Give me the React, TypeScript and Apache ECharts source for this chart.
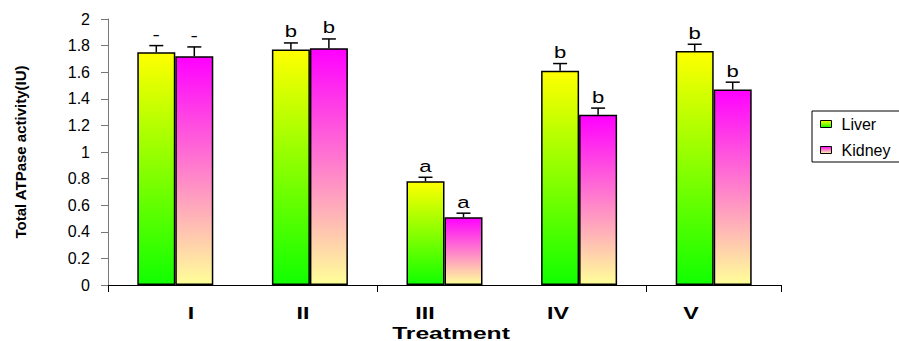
import React, { useEffect, useRef } from "react";
import * as echarts from "echarts";

const categories = ["I", "II", "III", "IV", "V"];
const liverValues = [1.75, 1.77, 0.78, 1.61, 1.76];
const kidneyValues = [1.72, 1.78, 0.51, 1.28, 1.47];
const liverErrors = [0.05, 0.05, 0.03, 0.055, 0.05];
const kidneyErrors = [0.07, 0.07, 0.03, 0.05, 0.055];
const liverLetters = ["-", "b", "a", "b", "b"];
const kidneyLetters = ["-", "b", "a", "b", "b"];
const yTicks = { min: 0, max: 2, interval: 0.2 };

// layout only
const BAR_W = 38;
const catLabelX = [191, 303, 425, 558, 691];
const FONT = "'Liberation Sans', Arial, sans-serif";

const liverGrad = new echarts.graphic.LinearGradient(0, 0, 0, 1, [
  { offset: 0, color: "#FFFF00" },
  { offset: 1, color: "#11FF00" },
]);
const kidneyGrad = new echarts.graphic.LinearGradient(0, 0, 0, 1, [
  { offset: 0, color: "#FF00FF" },
  { offset: 1, color: "#FFFF99" },
]);

function errSeries(name: string, values: number[], errs: number[], letters: string[], offset: number) {
  return {
    name,
    type: "custom",
    data: values.map((v, i) => [i, v, errs[i]]),
    z: 5,
    renderItem: (params: any, api: any) => {
      const idx = api.value(0);
      const v = api.value(1);
      const e = api.value(2);
      const top = api.coord([idx, v]);
      const cap = api.coord([idx, v + e]);
      const x = top[0] + offset;
      return {
        type: "group",
        children: [
          { type: "line", shape: { x1: x, y1: top[1], x2: x, y2: cap[1] }, style: { stroke: "#000", lineWidth: 1.5 } },
          { type: "line", shape: { x1: x - 7, y1: cap[1], x2: x + 7, y2: cap[1] }, style: { stroke: "#000", lineWidth: 1.5 } },
          {
            type: "text",
            x,
            y: cap[1] - 3,
            scaleX: 1.3,
            style: {
              text: letters[params.dataIndex],
              textAlign: "center",
              textVerticalAlign: "bottom",
              font: `17px ${FONT}`,
              fill: "#000",
            },
          },
        ],
      };
    },
  };
}

export default function App() {
  const ref = useRef<HTMLDivElement>(null);
  useEffect(() => {
    if (!ref.current) return;
    const chart = echarts.init(ref.current, undefined, { renderer: "svg" });
    chart.setOption({
      animation: false,
      backgroundColor: "#fff",
      textStyle: { fontFamily: FONT },
      grid: { left: 108, right: 118, top: 19, bottom: 56 },
      legend: {
        data: ["Liver", "Kidney"],
        orient: "vertical",
        left: 812,
        top: 111,
        borderWidth: 0,
        padding: [5, 4, 5, 8],
        itemWidth: 11,
        itemHeight: 7,
        itemGap: 10,
        icon: "rect",
        itemStyle: { borderWidth: 1, borderColor: "#000" },
        textStyle: { fontSize: 16, lineHeight: 16, color: "#000", fontFamily: FONT, padding: [0, 0, 0, 5] },
      },
      xAxis: {
        type: "category",
        data: categories,
        axisLine: { lineStyle: { color: "#000", width: 1 } },
        axisTick: { show: true, interval: 1, length: 7, lineStyle: { color: "#000" } },
        axisLabel: { show: false },
        splitLine: { show: false },
      },
      yAxis: {
        type: "value",
        min: yTicks.min,
        max: yTicks.max,
        interval: yTicks.interval,
        axisLine: { show: true, lineStyle: { color: "#777", width: 1 } },
        axisTick: { show: true, length: 7, lineStyle: { color: "#777" } },
        axisLabel: { fontSize: 16, color: "#000", margin: 18, fontFamily: FONT },
        splitLine: { show: false },
        name: "Total ATPase activity(IU)",
        nameLocation: "middle",
        nameRotate: 90,
        nameGap: 80,
        nameTextStyle: { fontSize: 15, fontWeight: "bold", color: "#000", fontFamily: FONT },
      },
      series: [
        {
          name: "Liver",
          type: "bar",
          data: liverValues,
          barWidth: BAR_W,
          barGap: "0%",
          itemStyle: { color: liverGrad, borderColor: "#000", borderWidth: 1.5 },
        },
        {
          name: "Kidney",
          type: "bar",
          data: kidneyValues,
          barWidth: BAR_W,
          barGap: "0%",
          itemStyle: { color: kidneyGrad, borderColor: "#000", borderWidth: 1.5 },
        },
        errSeries("LiverErr", liverValues, liverErrors, liverLetters, -BAR_W / 2),
        errSeries("KidneyErr", kidneyValues, kidneyErrors, kidneyLetters, BAR_W / 2),
      ],
      graphic: [
        {
          type: "rect",
          shape: { x: 812, y: 111, width: 120, height: 51 },
          style: { fill: "none", stroke: "#000", lineWidth: 1 },
          z: -1,
        },
        ...categories.map((c, i) => ({
          type: "text",
          x: catLabelX[i],
          y: 313,
          scaleX: 1.45,
          style: {
            text: c,
            textAlign: "center",
            textVerticalAlign: "middle",
            font: `bold 16px ${FONT}`,
            fill: "#000",
          },
        })),
        {
          type: "text",
          x: 451,
          y: 333,
          scaleX: 1.45,
          style: {
            text: "Treatment",
            textAlign: "center",
            textVerticalAlign: "middle",
            font: `bold 17px ${FONT}`,
            fill: "#000",
          },
        },
      ],
    });
    return () => chart.dispose();
  }, []);
  return (
    <div
      ref={ref}
      style={{ position: "fixed", left: 0, top: 0, width: 899, height: 341 }}
    />
  );
}
